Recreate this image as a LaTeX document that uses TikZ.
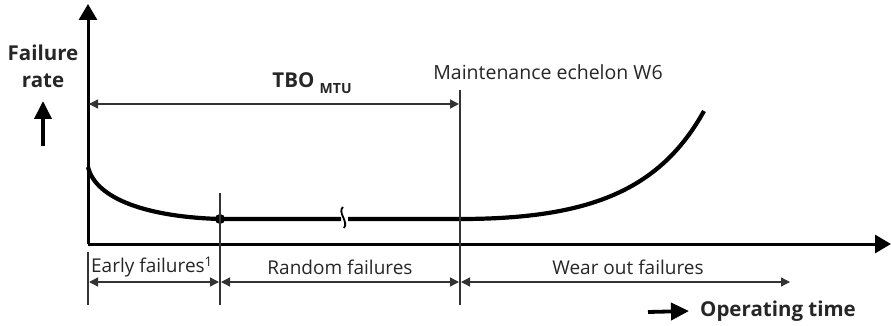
\documentclass[tikz,border=0pt]{standalone}
\usepackage{fontspec}
\setmainfont{Open Sans}
\usepackage{tikz}
\usetikzlibrary{arrows.meta}
\usetikzlibrary{positioning}

\tikzset{
    axis/.style={line width=3pt, -{Triangle[length=16pt,width=18pt]}},
    curve/.style={line width=4.2pt},
    thinline/.style={line width=1.3pt, black!80},
    dimline/.style={line width=1.3pt, black!80, {Triangle[length=9pt,width=9pt]}-{Triangle[length=9pt,width=9pt]}},
    bigarrow/.style={line width=3.8pt, -{Triangle[length=18pt,width=17pt]}},
    lbl/.style={font=\fontsize{19}{22}\selectfont, text=black!85, inner sep=2pt},
    boldlbl/.style={font=\fontsize{20.5}{27}\selectfont\bfseries, text=black!85, inner sep=2pt}
}

\begin{document}
\begin{tikzpicture}[x=1pt, y=-1pt]
        \useasboundingbox (0,0) rectangle (891,326);

            % Points
            \coordinate (origin) at (88,244);
            \coordinate (ytop) at (88,4);
            \coordinate (xend) at (891,244);
            \coordinate (start) at (88,167);
            \coordinate (knee) at (220,219);
            \coordinate (breakL) at (341,219);
            \coordinate (breakR) at (348,219);
            \coordinate (tbo) at (460,219);
            \coordinate (wearend) at (704,111);

            % Nodes
            \node [boldlbl, align=center] (failure) at (43,66) {Failure\\rate};
            \node [boldlbl] (tbolabel) at (312,83) {TBO \raisebox{-6pt}{\fontsize{14}{16}\selectfont MTU}};
            \node [lbl, font=\fontsize{19.5}{22}\selectfont] (maint) at (548,72) {Maintenance echelon W6};
            \node [lbl] (early) at (152,267) {Early failures\textsuperscript{1}};
            \node [lbl] (random) at (340,267) {Random failures};
            \node [lbl] (wearout) at (628,267) {Wear out failures};
            \node [boldlbl] (optime) at (778,311) {Operating time};

            % Axes
            \draw [axis] (origin) -- (ytop);
            \draw [axis] (origin) -- (xend);
            \draw [bigarrow] (43,146) -- (43,101);
            \draw [bigarrow] (648,312) -- ([xshift=-9pt]optime.west);

            % Failure rate curve
            \draw [curve] (start) .. controls (96,200) and (150,217) .. (knee) -- (breakL);
            \draw [curve] (breakR) -- (tbo) .. controls (590,219) and (660,190) .. (wearend);
            \draw [line width=1.8pt] (343,207) .. controls (337,212) and (349,222) .. (344,228);
            \fill (knee) circle (5pt);

            % Marker lines
            \draw [thinline] (88,252) -- (88,305);
            \draw [thinline] (220,193) -- (220,305);
            \draw [thinline] (460,90) -- (460,305);

            % Dimension arrows
            \draw [dimline] (89,104) -- (459,104);
            \draw [dimline] (89,282) -- (219,282);
            \draw [dimline] (221,282) -- (459,282);
            \draw [dimline] (461,282) -- (790,282);

\end{tikzpicture}
\end{document}
